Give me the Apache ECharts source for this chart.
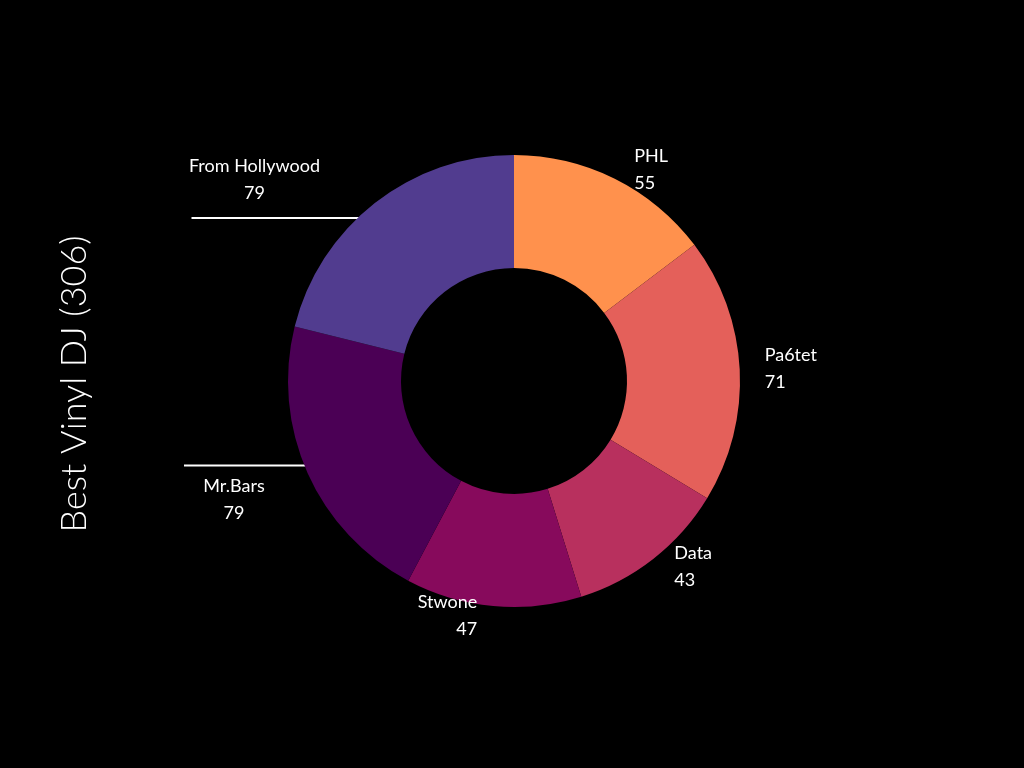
<!DOCTYPE html>
<html><head><meta charset="utf-8">
<script src="https://cdn.jsdelivr.net/npm/echarts@6/dist/echarts.min.js"></script>
<style>html,body{margin:0;background:#000}#c{width:1024px;height:768px}</style>
</head><body><div id="c"></div>
<script>
const categories = ["PHL","Pa6tet","Data","Stwone","Mr.Bars","From Hollywood"];
const values = [55,71,43,47,79,79];
const colors = ["#FF914D","#E4605A","#B8305E","#870A5C","#4B0055","#513C8F"];
const title = "Best Vinyl DJ (306)";
const chart = echarts.init(document.getElementById('c'));
const cx = 514, cy = 381;
chart.setOption({
  backgroundColor:'#000',
  graphic:[{type:'text',left:22,top:'middle',rotation:Math.PI/2,
    style:{text:title,fill:'#fff',font:'300 36px Lato',textAlign:'center'},x:56,y:384,left:null,top:null}],
  series:[{
    type:'pie', center:[cx,cy], radius:[113,226], startAngle:90, clockwise:true,
    animation:false,
    data:categories.map((n,i)=>({name:n,value:values[i],itemStyle:{color:colors[i]},
      labelLine:{show:i>=4,lineStyle:{color:'#fff',width:2}}})),
    label:{show:true,position:'outside',distance:0,formatter:'{b}\n{c}',color:'#fff',
      fontFamily:'Lato',fontSize:18,lineHeight:27,align:'center'},
    labelLine:{show:false,length:10,length2:10},
    labelLayout:function(p){
      const i=p.dataIndex;
      if(i<4) return {};
      const q=p.labelLinePoints[0];
      const dx=q[0]-cx, dy=q[1]-cy, d=Math.hypot(dx,dy), r=207;
      const a=[cx+dx/d*r, cy+dy/d*r];
      const len = i===5?195:141;
      const e=[a[0]-len,a[1]];
      return {x: i===5? e[0]+63 : e[0]+50, y: i===5? a[1]-38 : a[1]+34, align:'center', verticalAlign:'middle',
        labelLinePoints:[a,[a[0]-len/2,a[1]],e]};
    }
  }]
});
</script></body></html>
